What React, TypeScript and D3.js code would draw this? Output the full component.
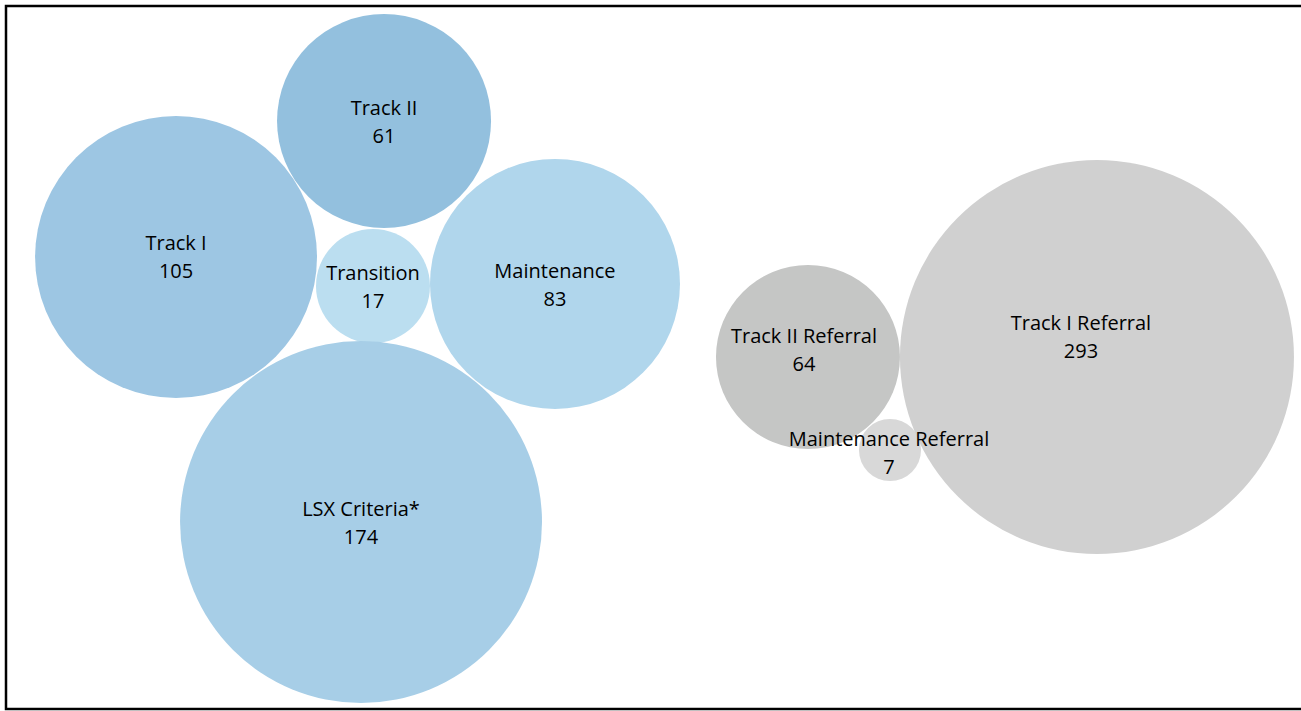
import React, { useRef, useEffect } from 'react';
import * as d3 from 'd3';

// bubble chart data (x, y, bubble size as in the source sheet)
const categories = [
  'Track I',
  'Track II',
  'Transition',
  'Maintenance',
  'LSX Criteria*',
  'Track II Referral',
  'Maintenance Referral',
  'Track I Referral',
];
const counts = [105, 61, 17, 83, 174, 64, 7, 293];
const xValues = [13.08, 29.08, 28.23, 42.23, 27.31, 61.69, 68.0, 83.92];
const yValues = [64.3, 83.64, 60.17, 60.46, 26.6, 50.07, 36.84, 50.07];
const bubbleSizes = [51.2, 29.5, 8.37, 40.26, 84.4, 21.8, 2.48, 100];

const colors = ['#9dc6e3', '#93c0de', '#bbdef0', '#b0d6ec', '#a7cee7', '#c5c6c5', '#d8d8d8', '#d0d0d0'];
// label nudges in px (some labels were dragged off-centre)
const labelDx = [0, 0, 0, 0, 0, -4, -1, -16];
const labelDy = [0, 0, 0, 1, 0, -8, 2, -21];

const W = 1301;
const H = 711;

const BubbleChart: React.FC = () => {
  const svgRef = useRef<SVGSVGElement | null>(null);

  useEffect(() => {
    const svg = d3.select(svgRef.current)
      .attr('width', W)
      .attr('height', H)
      .style('position', 'absolute')
      .style('left', '0px')
      .style('top', '0px')
      .style('background', '#fff');

    const x = d3.scaleLinear().domain([0, 100]).range([6, 1306]);
    const y = d3.scaleLinear().domain([0, 100]).range([709, 6]);
    const r = d3.scaleSqrt().domain([0, 100]).range([0, 197]);

    const data = categories.map((c, i) => ({
      name: c,
      count: counts[i],
      x: xValues[i],
      y: yValues[i],
      size: bubbleSizes[i],
      i,
    }));

    svg.append('g')
      .selectAll('circle')
      .data(data)
      .enter()
      .append('circle')
      .attr('cx', d => x(d.x))
      .attr('cy', d => y(d.y))
      .attr('r', d => r(d.size))
      .attr('fill', d => colors[d.i]);

    const labels = svg.append('g')
      .style('font-family', '"Open Sans", Lato, sans-serif')
      .style('font-size', '20px')
      .attr('fill', '#000')
      .attr('text-anchor', 'middle');

    labels.selectAll('text.name')
      .data(data)
      .enter()
      .append('text')
      .attr('class', 'name')
      .attr('x', d => x(d.x) + labelDx[d.i])
      .attr('y', d => y(d.y) + labelDy[d.i] - 14)
      .attr('dominant-baseline', 'central')
      .text(d => d.name);

    labels.selectAll('text.count')
      .data(data)
      .enter()
      .append('text')
      .attr('class', 'count')
      .attr('x', d => x(d.x) + labelDx[d.i])
      .attr('y', d => y(d.y) + labelDy[d.i] + 14)
      .attr('dominant-baseline', 'central')
      .text(d => d.count);

    // frame
    svg.append('rect')
      .attr('x', 6)
      .attr('y', 6)
      .attr('width', 1310)
      .attr('height', 703)
      .attr('fill', 'none')
      .attr('stroke', '#000')
      .attr('stroke-width', 2.5);

    return () => {
      svg.selectAll('*').remove();
    };
  }, []);

  return <svg ref={svgRef}></svg>;
};

export default function App() {
  return <BubbleChart />;
}
